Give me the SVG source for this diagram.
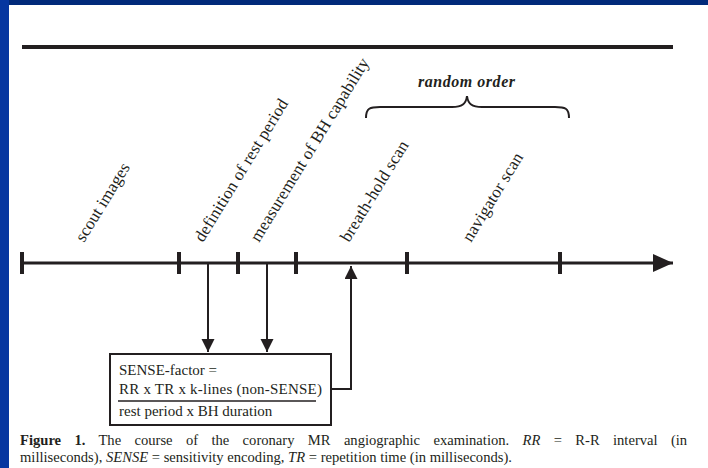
<svg xmlns="http://www.w3.org/2000/svg" width="708" height="468" viewBox="0 0 708 468">
<style>
.lbl{font-family:"Liberation Serif","Times New Roman",serif;font-size:17px;fill:#231f20}
.box{font-family:"Liberation Serif","Times New Roman",serif;font-size:15px;fill:#231f20}
.cap{font-family:"Liberation Serif","Times New Roman",serif;font-size:14.6px;fill:#231f20}
.ln{stroke:#231f20;fill:none}
</style>
<defs>
<marker id="ah" markerWidth="13" markerHeight="14" refX="13" refY="6.5" orient="auto" markerUnits="userSpaceOnUse">
<path d="M0,0 L13,6.5 L0,13 Z" fill="#231f20"/>
</marker>
<marker id="big" markerWidth="20" markerHeight="18" refX="20" refY="9" orient="auto" markerUnits="userSpaceOnUse">
<path d="M0,0 L20,9 L0,18 Z" fill="#231f20"/>
</marker>
</defs>
<rect x="0" y="0" width="708" height="468" fill="#ffffff"/>
<rect x="0" y="0" width="708" height="5" fill="#012a7a"/>
<rect x="0" y="0" width="9" height="468" fill="#0636a0"/>

<g id="topline"><line class="ln" x1="22" y1="47" x2="673" y2="47" stroke-width="4"/></g>

<g id="timeline">
<line class="ln" x1="22" y1="263" x2="673" y2="263" stroke-width="3" marker-end="url(#big)"/>
<g class="ln" stroke-width="4">
<line x1="22" y1="252" x2="22" y2="274"/>
<line x1="179" y1="252" x2="179" y2="274"/>
<line x1="238" y1="252" x2="238" y2="274"/>
<line x1="296" y1="252" x2="296" y2="274"/>
<line x1="407" y1="252" x2="407" y2="274"/>
<line x1="560" y1="252" x2="560" y2="274"/>
</g>
</g>

<g id="labels">
<text class="lbl" transform="translate(84,243) rotate(-58.5)" textLength="89">scout images</text>
<text class="lbl" transform="translate(203,243) rotate(-58.5)" textLength="164">definition of rest period</text>
<text class="lbl" transform="translate(259,243) rotate(-58.5)" textLength="212">measurement of BH capability</text>
<text class="lbl" transform="translate(349,243) rotate(-58.5)" textLength="115">breath-hold scan</text>
<text class="lbl" transform="translate(471,243) rotate(-58.5)" textLength="101">navigator scan</text>
</g>

<g id="random-order">
<text x="418" y="87" font-family="Liberation Serif, Times New Roman, serif" font-size="16" font-weight="bold" font-style="italic" fill="#231f20" textLength="97">random order</text>
<path class="ln" stroke-width="2" d="M366,118 C366,108 370,107 380,107 L452,107 C462,107 466,104 467,96 C468,104 472,107 482,107 L555,107 C565,107 569,108 569,118"/>
</g>

<g id="sense-box">
<rect class="ln" x="110" y="354" width="221" height="71" stroke-width="2"/>
<text class="box" x="119" y="375">SENSE-factor =</text>
<text class="box" x="119" y="394" textLength="203">RR x TR x k-lines (non-SENSE)</text>
<line class="ln" x1="118" y1="401" x2="316" y2="401" stroke-width="1.5"/>
<text class="box" x="119" y="416">rest period x BH duration</text>
</g>

<g id="connectors" class="ln" stroke-width="2">
<line x1="208" y1="263" x2="208" y2="352" marker-end="url(#ah)"/>
<line x1="267" y1="263" x2="267" y2="352" marker-end="url(#ah)"/>
<polyline points="331,389 351,389 351,266" marker-end="url(#ah)"/>
</g>

<g id="caption">
<text class="cap" x="20" y="445" word-spacing="9.7"><tspan font-weight="bold">Figure 1.</tspan>  The course of the coronary MR angiographic examination. <tspan font-style="italic">RR</tspan> = R-R interval (in</text>
<text class="cap" x="20" y="462">milliseconds), <tspan font-style="italic">SENSE</tspan> = sensitivity encoding, <tspan font-style="italic">TR</tspan> = repetition time (in milliseconds).</text>
</g>
</svg>
